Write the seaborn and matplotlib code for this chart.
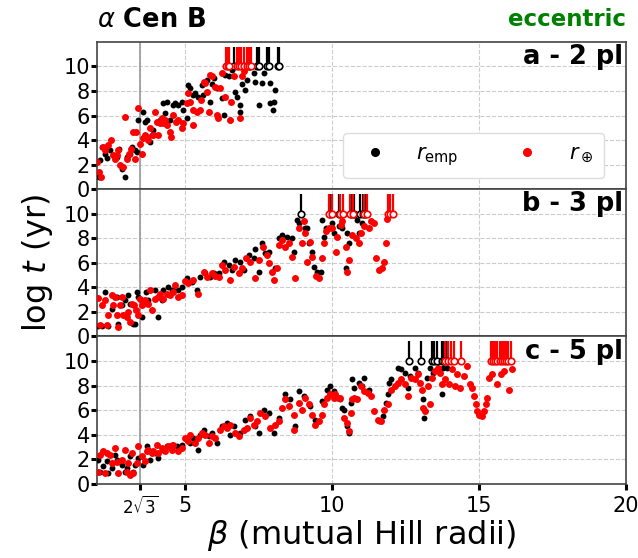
import numpy as np
import pandas as pd
import matplotlib
matplotlib.use("Agg")
import matplotlib.pyplot as plt
import seaborn as sns
from matplotlib.lines import Line2D

# ---------------- data ----------------
# panel a (2 planets)
a_emp_x = [2.05, 2.08, 2.1, 2.16, 2.27, 2.33, 2.44, 2.56, 2.67, 2.76, 2.84, 2.95, 3.01, 3.13, 3.18, 3.3, 3.35,
           3.41, 3.58, 3.64, 3.69, 3.75, 3.8, 3.86, 3.92, 4.03, 4.15, 4.26, 4.32, 4.38, 4.49, 4.6, 4.66, 4.77,
           4.89, 4.94, 5.06, 5.1, 5.17, 5.28, 5.35, 5.45, 5.57, 5.62, 5.74, 5.85, 5.9, 5.97, 6.08, 6.25, 6.31,
           6.36, 6.48, 6.53, 6.59, 6.7, 6.76, 6.88, 6.88, 6.93, 7.04, 7.1, 7.33, 7.39, 7.5, 7.61, 7.67, 7.9,
           7.9, 8.0, 8.01, 8.07]
a_emp_y = [1.26, 0.98, 2.35, 3.44, 2.9, 2.5, 3.17, 2.76, 2.62, 3.3, 1.67, 0.98, 2.62, 2.9, 3.44, 3.17, 3.03,
           5.63, 6.3, 5.5, 5.6, 4.26, 3.85, 4.4, 4.8, 5.5, 5.6, 7.0, 6.17, 7.13, 5.6, 6.86, 7.0, 6.86,
           7.13, 6.45, 5.77, 8.5, 8.22, 7.68, 7.8, 7.54, 8.5, 7.68, 8.9, 7.13, 8.6, 9.04, 8.22, 7.4, 6.04,
           9.3, 9.18, 5.63, 9.7, 7.95, 7.54, 6.86, 6.3, 8.6, 8.1, 8.9, 9.45, 8.77, 6.86, 8.63, 9.45, 8.63,
           7.0, 6.45, 7.13, 8.1]
a_earth_x = [2.0, 2.08, 2.13, 2.19, 2.27, 2.39, 2.47, 2.54, 2.61, 2.67, 2.73, 2.78, 2.87, 2.95, 3.01, 3.1,
             3.15, 3.24, 3.3, 3.33, 3.41, 3.47, 3.52, 3.58, 3.64, 3.69, 3.75, 3.8, 3.92, 3.97, 4.03, 4.09,
             4.15, 4.2, 4.26, 4.32, 4.4, 4.47, 4.52, 4.6, 4.69, 4.77, 4.89, 4.94, 5.06, 5.11, 5.17, 5.26,
             5.28, 5.4, 5.49, 5.53, 5.63, 5.68, 5.74, 5.8, 5.85, 5.91, 6.02, 6.08, 6.13, 6.19, 6.25, 6.36,
             6.53, 6.56, 6.65, 6.88, 6.93, 7.0]
a_earth_y = [2.2, 1.4, 0.98, 3.44, 3.17, 3.58, 3.99, 2.76, 2.49, 2.76, 3.17, 1.94, 1.8, 5.9, 2.49, 2.9,
             3.3, 4.67, 2.49, 4.67, 6.6, 3.7, 2.9, 4.13, 4.4, 4.26, 4.0, 4.95, 4.4, 6.3, 5.5, 4.4,
             5.36, 5.77, 5.36, 5.63, 5.2, 4.67, 4.26, 6.04, 5.5, 5.63, 4.95, 5.36, 7.0, 7.8, 7.13, 5.2,
             6.45, 6.3, 6.45, 7.27, 8.77, 8.63, 7.95, 6.3, 9.3, 9.18, 8.36, 6.04, 5.77, 8.2, 9.45, 7.54,
             5.63, 7.13, 9.18, 5.77, 9.18, 9.6]
a_stable_emp = [6.67, 7.18, 7.45, 7.52, 7.78, 7.86, 8.15, 8.2]
a_stable_earth = [6.38, 6.45, 6.5, 6.77, 6.82, 6.9, 7.02, 7.1, 7.16, 7.23]

# panel b (3 planets)
b_emp_x = [2.05, 2.16, 2.27, 2.39, 2.5, 2.67, 2.73, 2.84, 2.95, 3.07, 3.12, 3.24, 3.3, 3.35, 3.41, 3.52,
           3.58, 3.66, 3.75, 3.98, 4.09, 4.2, 4.26, 4.43, 4.55, 4.6, 4.77, 4.91, 5.06, 5.23, 5.4, 5.51,
           5.68, 5.85, 5.97, 6.14, 6.31, 6.48, 6.59, 6.7, 6.88, 6.99, 7.16, 7.33, 7.39, 7.5, 7.61, 7.73,
           7.84, 8.07, 8.18, 8.3, 8.47, 8.64, 8.7, 8.81, 8.86, 9.09, 9.16, 9.22, 9.33, 9.39, 9.5, 9.62,
           9.67, 9.73, 9.79, 10.01, 10.07, 10.24, 10.35, 10.47, 10.52, 10.58, 10.86, 10.92, 11.03]
b_emp_y = [0.82, 0.82, 3.63, 0.82, 2.27, 3.22, 1.04, 2.54, 2.95, 3.36, 2.68, 1.04, 1.04, 3.63, 3.22, 1.58,
           2.81, 3.63, 2.95, 3.82, 1.58, 2.95, 3.77, 4.04, 3.77, 3.82, 3.77, 4.04, 4.73, 4.45, 3.77, 4.86,
           5.14, 4.81, 5.19, 5.14, 6.09, 5.82, 5.41, 6.23, 6.09, 5.41, 6.64, 6.37, 7.1, 5.27, 7.6, 6.78,
           6.91, 5.55, 8.0, 8.28, 8.14, 8.0, 6.91, 9.5, 9.23, 8.83, 8.83, 7.6, 6.91, 5.68, 5.27, 5.27,
           9.5, 8.14, 8.83, 9.23, 8.42, 8.96, 8.83, 5.54, 8.42, 7.6, 9.5, 8.42, 9.23]
b_earth_x = [2.02, 2.1, 2.16, 2.27, 2.33, 2.39, 2.5, 2.56, 2.61, 2.67, 2.73, 2.78, 2.84, 2.9, 3.01, 3.07,
             3.13, 3.18, 3.27, 3.32, 3.39, 3.47, 3.52, 3.64, 3.75, 3.81, 3.86, 3.98, 4.09, 4.15, 4.26,
             4.38, 4.49, 4.6, 4.66, 4.77, 4.89, 5.0, 5.11, 5.28, 5.45, 5.63, 5.74, 5.91, 6.02, 6.14, 6.25,
             6.36, 6.53, 6.65, 6.82, 6.93, 7.07, 7.22, 7.39, 7.5, 7.64, 7.78, 7.84, 7.95, 8.01, 8.13,
             8.18, 8.3, 8.41, 8.52, 8.64, 8.75, 8.86, 8.98, 9.03, 9.09, 9.15, 9.26, 9.33, 9.44, 9.56,
             9.65, 9.73, 9.79, 9.9, 10.01, 10.13, 10.18, 10.3, 10.35, 10.47, 10.52, 10.58, 10.69, 10.81,
             10.92, 10.98, 11.09, 11.26, 11.32, 11.43, 11.49, 11.6, 11.71, 11.77, 11.83, 11.88]
b_earth_y = [3.17, 0.9, 2.54, 2.95, 0.9, 1.72, 3.36, 2.54, 3.22, 1.72, 0.77, 2.54, 3.22, 1.72, 1.58, 2.0,
             1.17, 2.68, 2.54, 2.13, 1.72, 3.09, 2.54, 2.95, 2.68, 3.77, 2.13, 3.09, 3.22, 3.5, 3.09,
             3.44, 3.36, 3.63, 4.18, 3.22, 3.36, 4.54, 4.32, 4.59, 3.5, 5.27, 4.86, 5.14, 4.92, 4.86, 5.82,
             5.41, 4.59, 5.63, 5.14, 5.55, 6.37, 6.09, 4.73, 6.23, 7.32, 6.64, 5.96, 5.27, 4.59, 5.55,
             7.46, 7.87, 7.32, 7.6, 6.5, 4.73, 8.83, 7.6, 9.37, 8.42, 6.09, 7.73, 6.5, 4.9, 4.76,
             6.37, 7.6, 8.56, 8.83, 8.83, 6.91, 8.14, 9.1, 9.37, 7.32, 5.27, 6.23, 8.28, 8.0,
             7.6, 8.42, 8.96, 8.83, 9.37, 9.23, 6.37, 5.41, 5.54, 6.09, 7.6, 9.6]
b_stable_emp = [8.96, 9.92, 10.22, 10.66, 10.74, 10.95, 11.05, 11.12]
b_stable_earth = [9.88, 10.0, 10.28, 10.36, 10.62, 10.72, 11.1, 11.2, 11.9, 11.98, 12.06]

# panel c (5 planets)
c_emp_x = [2.05, 2.1, 2.22, 2.33, 2.39, 2.5, 2.61, 2.67, 2.84, 2.95, 3.01, 3.13, 3.22, 3.3, 3.41, 3.58,
           3.69, 3.81, 3.98, 4.09, 4.26, 4.38, 4.55, 4.72, 4.89, 5.06, 5.17, 5.28, 5.45, 5.51, 5.63,
           5.8, 5.91, 6.08, 6.25, 6.42, 6.53, 6.65, 6.88, 7.05, 7.22, 7.39, 7.5, 7.67, 7.84, 8.01,
           8.18, 8.41, 8.58, 8.75, 8.86, 9.03, 9.26, 9.43, 9.66, 9.83, 9.94, 10.06, 10.17, 10.28, 10.34,
           10.4, 10.51, 10.57, 10.63, 10.69, 10.75, 10.92, 11.03, 11.09, 11.26, 11.61, 11.72, 11.84,
           11.9, 11.95, 12.01, 12.24, 12.36, 12.47, 12.59, 12.64, 12.82, 12.93, 13.1, 13.14, 13.22,
           13.33, 13.45, 13.74, 13.79, 13.91]
c_emp_y = [1.96, 1.0, 1.42, 1.83, 0.87, 1.28, 2.37, 1.96, 1.55, 1.0, 1.28, 2.23, 1.0, 1.55, 2.1, 1.55,
           3.05, 1.96, 2.51, 2.1, 2.78, 3.05, 3.19, 3.05, 3.19, 3.6, 3.32, 3.73, 2.78, 4.0, 4.41,
           3.87, 4.14, 3.32, 4.69, 4.96, 4.0, 4.69, 4.14, 5.23, 5.5, 4.69, 4.14, 6.05, 5.78, 4.14,
           5.37, 7.28, 6.87, 4.69, 7.55, 7.14, 6.32, 5.23, 6.73, 7.68, 7.96, 7.55, 7.0, 6.87, 6.19,
           6.05, 4.69, 4.14, 6.6, 8.5, 7.82, 8.23, 7.96, 8.64, 7.68, 5.1, 5.5, 6.6,
           7.28, 8.23, 8.5, 9.46, 9.32, 9.05, 7.82, 8.77, 9.46, 9.05, 6.87, 5.37, 8.64,
           9.46, 9.05, 7.28, 9.46, 9.46]
c_earth_x = [2.05, 2.1, 2.22, 2.28, 2.33, 2.44, 2.5, 2.61, 2.67, 2.73, 2.84, 2.95, 3.01, 3.07, 3.13, 3.18,
             3.24, 3.35, 3.41, 3.52, 3.64, 3.69, 3.75, 3.86, 3.92, 4.03, 4.09, 4.2, 4.32, 4.43, 4.55,
             4.6, 4.77, 4.89, 5.0, 5.11, 5.17, 5.34, 5.45, 5.57, 5.68, 5.8, 5.91, 6.02, 6.19, 6.31,
             6.42, 6.53, 6.7, 6.82, 6.99, 7.1, 7.22, 7.33, 7.44, 7.56, 7.73, 7.9, 8.07, 8.18, 8.3,
             8.41, 8.52, 8.69, 8.69, 8.86, 8.98, 9.09, 9.2, 9.32, 9.43, 9.55, 9.66, 9.72, 9.83, 9.94,
             10.06, 10.11, 10.23, 10.28, 10.4, 10.51, 10.57, 10.63, 10.68, 10.75, 10.86, 10.98, 11.09,
             11.21, 11.32, 11.44, 11.55, 11.67, 11.78, 11.9, 12.01, 12.13, 12.24, 12.36, 12.47, 12.59,
             12.7, 12.82, 12.93, 12.99, 13.05, 13.1, 13.16, 13.28, 13.33, 13.39, 13.51, 13.62, 13.68,
             13.74, 13.85, 13.97, 14.08, 14.2, 14.25, 14.37, 14.48, 14.6, 14.71, 14.77, 14.83, 14.89,
             14.94, 15.0, 15.11, 15.17, 15.23, 15.29, 15.34, 15.46, 15.63, 15.75, 15.86, 16.03, 16.14]
c_earth_y = [1.0, 2.37, 2.64, 0.87, 2.51, 2.37, 1.69, 2.92, 1.74, 0.87, 1.96, 2.78, 1.0, 1.69, 0.74, 2.51,
             0.87, 1.69, 3.05, 2.23, 1.83, 2.64, 2.78, 2.51, 2.64, 3.19, 2.51, 2.92, 2.64, 3.05, 2.78,
             3.19, 2.64, 2.92, 3.73, 3.46, 4.0, 3.32, 3.73, 4.14, 4.0, 3.32, 3.87, 3.73, 4.41, 4.69,
             4.55, 4.82, 4.14, 3.87, 4.41, 4.55, 5.37, 4.82, 5.1, 5.78, 5.5, 4.55, 4.82, 5.1, 6.19,
             6.87, 6.32, 5.64, 4.41, 6.6, 6.05, 7.0, 6.46, 5.64, 4.82, 5.1, 5.64, 6.46, 7.0, 7.28,
             7.0, 7.28, 7.0, 7.0, 5.37, 4.96, 4.28, 5.78, 6.87, 7.0, 6.87, 7.96, 7.55,
             7.41, 7.14, 5.91, 5.23, 5.1, 6.05, 6.46, 7.68, 7.96, 8.23, 8.5, 8.09, 7.14,
             8.64, 8.5, 8.91, 8.23, 7.68, 6.19, 5.91, 7.96, 6.46, 8.64, 9.18, 9.46, 9.05,
             8.09, 8.5, 8.09, 9.32, 7.96, 8.91, 7.82, 8.77, 9.59, 8.09, 7.82, 7.14, 6.46,
             5.91, 5.64, 5.5, 5.91, 6.46, 7.0, 8.64, 8.91, 8.09, 8.91, 9.18, 7.68, 9.32]
c_stable_emp = [12.62, 13.02, 13.4, 13.48, 13.57, 13.74, 13.8, 13.9]
c_stable_earth = [13.84, 13.95, 14.04, 14.15, 14.38, 15.4, 15.47, 15.55, 15.62, 15.7, 15.78, 15.85,
                  15.92, 16.0, 16.08]

panel_labels = ["a - 2 pl", "b - 3 pl", "c - 5 pl"]
xtick_vals = [2 * np.sqrt(3), 5, 10, 15, 20]
xtick_labels = [r"$2\sqrt{3}$", "5", "10", "15", "20"]
ytick_vals = [0, 2, 4, 6, 8, 10]

panels = [
    (a_emp_x, a_emp_y, a_earth_x, a_earth_y, a_stable_emp, a_stable_earth),
    (b_emp_x, b_emp_y, b_earth_x, b_earth_y, b_stable_emp, b_stable_earth),
    (c_emp_x, c_emp_y, c_earth_x, c_earth_y, c_stable_emp, c_stable_earth),
]

# ---------------- style ----------------
sns.set_style("whitegrid", {"grid.linestyle": "--", "grid.color": "#cccccc",
                            "axes.edgecolor": "#444444", "text.color": "black",
                            "axes.labelcolor": "black", "xtick.color": "black",
                            "ytick.color": "black"})
plt.rcParams["font.family"] = ["DejaVu Sans"]
plt.rcParams["mathtext.fontset"] = "dejavusans"

fig, axes = plt.subplots(3, 1, figsize=(6.38, 5.58), dpi=100, sharex=True)
fig.subplots_adjust(left=0.152, right=0.981, top=0.925, bottom=0.133, hspace=0)

BLACK = "black"
RED = "#ff0000"

for i, (ax, (ex, ey, rx, ry, se, sr)) in enumerate(zip(axes, panels)):
    df_e = pd.DataFrame({"beta": ex, "logt": ey})
    df_r = pd.DataFrame({"beta": rx, "logt": ry})
    sns.scatterplot(data=df_e, x="beta", y="logt", color=BLACK, s=18, linewidth=0, ax=ax, zorder=3)
    sns.scatterplot(data=df_r, x="beta", y="logt", color=RED, s=25, linewidth=0, ax=ax, zorder=4)
    # simulations still stable at the end: open circle at 10 and upward line
    for xs, col in ((se, BLACK), (sr, RED)):
        ax.vlines(xs, 10, 11.6, color=col, lw=1.6, zorder=5)
        ax.scatter(xs, [10] * len(xs), s=22, facecolor="white", edgecolor=col, linewidth=1.2, zorder=6)
    ax.axvline(2 * np.sqrt(3), color="#999999", lw=1.2, zorder=1)
    ax.set_xlim(2, 20)
    ax.set_ylim(0, 12)
    ax.set_yticks(ytick_vals)
    ax.set_yticklabels([str(v) for v in ytick_vals], fontsize=15)
    ax.tick_params(axis="y", which="major", direction="out", length=4, width=2.2, color="black", pad=1,
                   left=True, labelcolor="black")
    ax.set_xlabel("")
    ax.set_ylabel("")
    ax.grid(True, linestyle="--", color="#cccccc", lw=0.8)
    for sp in ax.spines.values():
        sp.set_color("#444444")
        sp.set_linewidth(1.2)
    ax.text(0.995, 0.985, panel_labels[i], transform=ax.transAxes, ha="right", va="top",
            fontsize=18.5, fontweight="bold", color="black", zorder=10)

axes[-1].set_xticks(xtick_vals)
axes[-1].set_xticklabels(xtick_labels)
for lab in axes[-1].get_xticklabels():
    lab.set_fontsize(15)
axes[-1].get_xticklabels()[0].set_fontsize(12)
axes[-1].tick_params(axis="x", direction="out", length=4, width=2.2, color="black", bottom=True, pad=5,
                     labelcolor="black")
for ax in axes[:-1]:
    ax.tick_params(axis="x", bottom=False, labelbottom=False)

axes[-1].set_xlabel(r"$\beta$ (mutual Hill radii)", fontsize=23, labelpad=0, color="black")
axes[1].set_ylabel(r"log $t$ (yr)", fontsize=23, labelpad=6, color="black")

handles = [Line2D([], [], marker="o", ls="", color=BLACK, markersize=5.5),
           Line2D([], [], marker="o", ls="", color=RED, markersize=5.5)]
axes[0].legend(handles, [r"$r_{\rm emp}$", r"$r_\oplus$"], ncol=2, loc="center right",
               bbox_to_anchor=(0.978, 0.23), fontsize=15, handletextpad=1.0, columnspacing=2.3,
               frameon=True, framealpha=1.0, edgecolor="#dddddd", borderpad=0.5, labelcolor="black")

fig.text(0.152, 0.965, r"$\alpha$ Cen B", fontsize=18.5, fontweight="bold", ha="left", va="center",
         color="black")
fig.text(0.981, 0.965, "eccentric", fontsize=16.5, fontweight="bold", color="#008000", ha="right",
         va="center")

fig.savefig("out.png", dpi=100)
